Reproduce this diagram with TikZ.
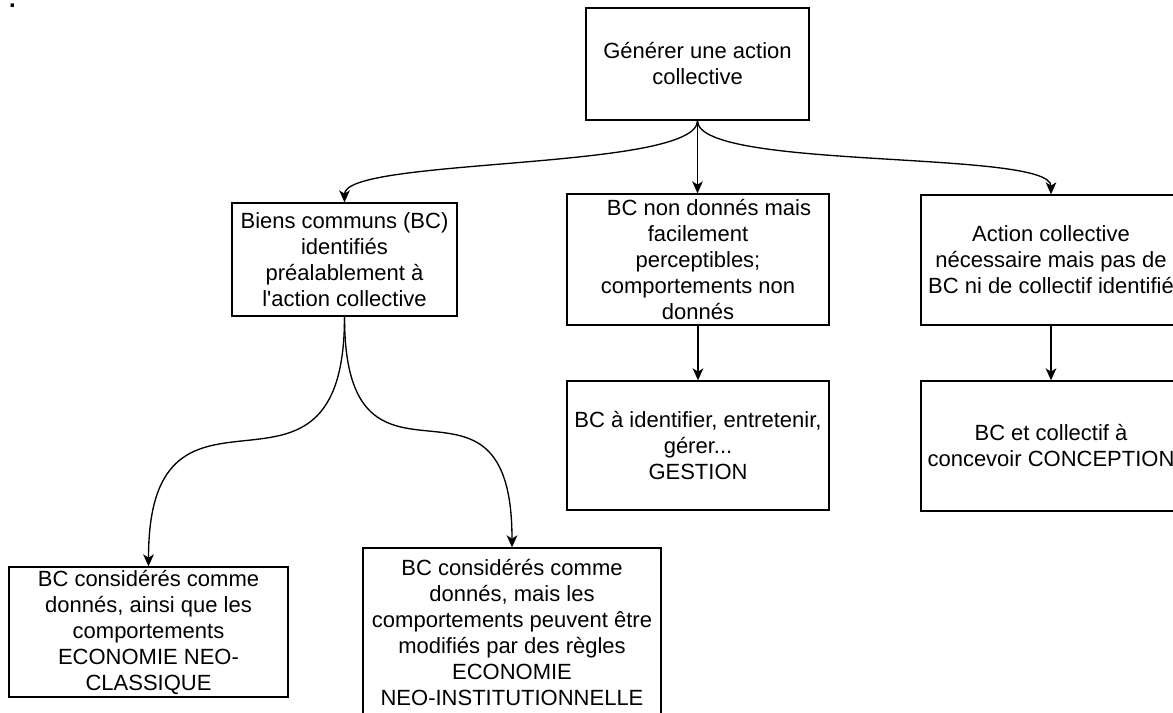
\documentclass[tikz,border=0pt]{standalone}
\usepackage{fontspec}
\setmainfont{Liberation Sans}
\usetikzlibrary{arrows.meta}
\begin{document}
\begin{tikzpicture}[x=0.75pt,y=-0.75pt,
  box/.style={draw, line width=1pt, align=center, inner sep=0pt,
    font=\fontsize{16.5}{19.5}\selectfont},
  arr/.style={line width=1pt, -{Stealth[length=9pt,width=8pt,inset=2.5pt]}}]
\useasboundingbox (0,0) rectangle (1173,713);
\clip (0,0) rectangle (1173,713);

\node[font=\fontsize{18}{20}\selectfont\bfseries, anchor=base, inner sep=0pt] (dot) at (12.5,7.5) {.};

\node[box, minimum width={223*0.75pt}, minimum height={112*0.75pt}] (top) at (697.5,64)
  {Générer une action\\collective};
\node[box, minimum width={225*0.75pt}, minimum height={113*0.75pt}] (A) at (344.5,259.5)
  {Biens communs (BC)\\identifiés\\préalablement à\\l\textquotesingle action collective};
\node[box, minimum width={262*0.75pt}, minimum height={131*0.75pt}] (B) at (698,259.5)
  {\hspace*{16.5pt}BC non donnés mais\\facilement\\perceptibles;\\comportements non\\donnés};
\node[box, minimum width={260*0.75pt}, minimum height={130*0.75pt}] (C) at (1051,260)
  {Action collective\\nécessaire mais pas de\\BC ni de collectif identifié};
\node[box, minimum width={262*0.75pt}, minimum height={129*0.75pt}] (D) at (698,445.5)
  {BC à identifier, entretenir,\\gérer...\\GESTION};
\node[box, minimum width={260*0.75pt}, minimum height={130*0.75pt}] (E) at (1051,446)
  {BC et collectif à\\concevoir CONCEPTION};
\node[box, minimum width={279*0.75pt}, minimum height={130*0.75pt}] (F) at (148.5,632)
  {BC considérés comme\\donnés, ainsi que les\\comportements\\ECONOMIE NEO-\\CLASSIQUE};
\node[box, minimum width={298*0.75pt}, minimum height={169*0.75pt}] (G) at (512,632.5)
  {BC considérés comme\\donnés, mais les\\comportements peuvent être\\modifiés par des règles\\ECONOMIE\\NEO-INSTITUTIONNELLE};

\draw[arr] (top.south) .. controls +(0,50) and +(0,-45) .. (A.north);
\draw[arr] (top.south) -- (top.south |- B.north);
\draw[arr] (top.south) .. controls +(0,50) and +(0,-45) .. (C.north);
\draw[arr] (B.south) -- (D.north);
\draw[arr] (C.south) -- (E.north);
\draw[arr] (A.south) .. controls +(0,225) and +(0,-225) .. (F.north);
\draw[arr] (A.south) .. controls +(0,210) and +(0,-210) .. (G.north);
\end{tikzpicture}
\end{document}
